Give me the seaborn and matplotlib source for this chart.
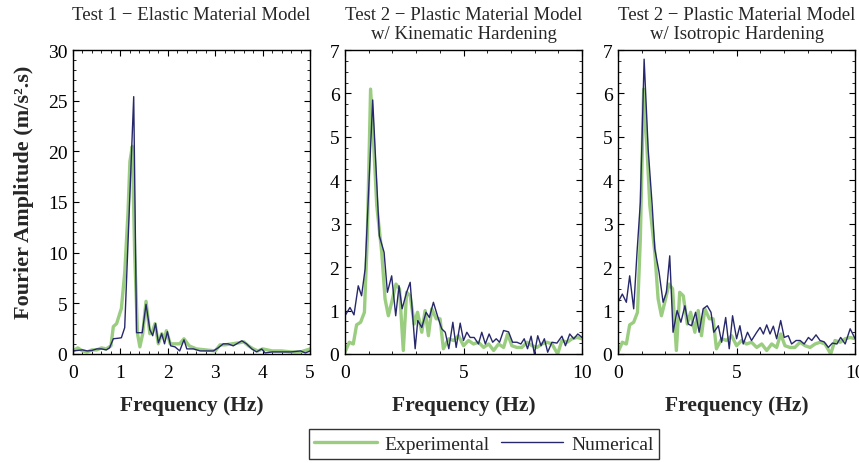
import numpy as np
import pandas as pd
import matplotlib
matplotlib.use("Agg")
import matplotlib.pyplot as plt
import seaborn as sns
from matplotlib.ticker import MultipleLocator

# ---------------- data ----------------
# Test 1 - elastic
f_exp1 = [0, 0.1, 0.2, 0.3, 0.4, 0.5, 0.6, 0.7, 0.8, 0.85, 0.92, 1.02, 1.09, 1.16, 1.2, 1.25, 1.3, 1.36,
          1.41, 1.47, 1.54, 1.62, 1.68, 1.73, 1.8, 1.87, 1.93, 1.97, 2.05, 2.15, 2.25, 2.34, 2.45, 2.6,
          2.8, 3.0, 3.1, 3.2, 3.35, 3.5, 3.6, 3.7, 3.8, 3.9, 4.0, 4.2, 4.4, 4.6, 4.8, 5.0]
a_exp1 = [0.3, 0.6, 0.3, 0.2, 0.4, 0.4, 0.6, 0.5, 0.8, 2.7, 3.0, 4.5, 8.0, 14.0, 19.0, 20.5, 10.0, 2.0,
          0.7, 2.0, 5.2, 2.0, 2.3, 3.0, 1.0, 2.0, 1.5, 2.3, 1.0, 1.0, 1.0, 1.5, 0.8, 0.5,
          0.4, 0.3, 0.9, 0.9, 1.0, 1.1, 1.2, 0.8, 0.5, 0.3, 0.5, 0.3, 0.3, 0.2, 0.2, 0.5]
f_num1 = [0, 0.1, 0.2, 0.3, 0.4, 0.5, 0.6, 0.7, 0.77, 0.85, 0.95, 1.02, 1.09, 1.28, 1.34, 1.46, 1.54,
          1.62, 1.68, 1.74, 1.8, 1.87, 1.93, 1.99, 2.06, 2.15, 2.25, 2.34, 2.4, 2.54, 2.68, 2.82, 2.96,
          3.06, 3.17, 3.27, 3.38, 3.56, 3.66, 3.77, 3.87, 3.98, 4.05, 4.2, 4.4, 4.6, 4.8, 4.9, 5.0]
a_num1 = [0.3, 0.35, 0.4, 0.3, 0.35, 0.5, 0.5, 0.4, 0.6, 1.5, 1.55, 1.6, 2.6, 25.4, 2.1, 2.1, 4.9,
          2.4, 1.8, 3.0, 1.1, 2.0, 1.0, 2.2, 0.8, 0.7, 0.3, 1.4, 0.5, 0.5, 0.3, 0.3, 0.3,
          0.6, 1.0, 1.0, 0.8, 1.3, 1.0, 0.5, 0.2, 0.5, 0.1, 0.2, 0.2, 0.2, 0.3, 0.1, 0.3]

# Test 2 - experimental (shared by both plastic panels)
f_exp2 = [0, 0.18, 0.35, 0.49, 0.66, 0.82, 0.94, 1.08, 1.2, 1.34, 1.55, 1.69, 1.83, 1.97, 2.15, 2.3,
          2.46, 2.6, 2.75, 2.92, 3.06, 3.24, 3.38, 3.52, 3.66, 3.85, 4.01, 4.15, 4.37, 4.58, 4.79, 5.0,
          5.21, 5.42, 5.63, 5.85, 6.06, 6.27, 6.48, 6.69, 6.86, 7.04, 7.25, 7.46, 7.68, 7.89, 8.1,
          8.31, 8.52, 8.73, 8.97, 9.15, 9.37, 9.58, 9.79, 10.0]
a_exp2 = [0.04, 0.27, 0.23, 0.67, 0.73, 0.96, 2.65, 6.1, 4.95, 3.42, 2.34, 1.27, 0.88, 1.19, 1.61, 1.5,
          0.08, 1.42, 1.34, 0.69, 0.96, 0.5, 1.0, 0.42, 1.04, 0.81, 0.81, 0.12, 0.35, 0.31, 0.42, 0.19,
          0.31, 0.23, 0.27, 0.15, 0.23, 0.08, 0.23, 0.15, 0.46, 0.19, 0.15, 0.15, 0.27, 0.19, 0.15,
          0.23, 0.27, 0.23, 0.0, 0.31, 0.27, 0.35, 0.38, 0.35]

# Test 2 - numerical, kinematic hardening
f_num2 = [0, 0.21, 0.38, 0.56, 0.7, 0.85, 1.17, 1.45, 1.65, 1.79, 1.97, 2.14, 2.28, 2.41, 2.6, 2.75,
          2.96, 3.07, 3.24, 3.42, 3.56, 3.73, 3.9, 4.08, 4.23, 4.38, 4.55, 4.69, 4.86, 5.0, 5.14, 5.28,
          5.45, 5.63, 5.77, 5.92, 6.08, 6.23, 6.38, 6.52, 6.69, 6.9, 7.07, 7.25, 7.42, 7.56, 7.7,
          7.85, 7.99, 8.13, 8.27, 8.41, 8.55, 8.73, 8.94, 9.15, 9.3, 9.48, 9.65, 9.82, 10.0]
a_num2 = [0.88, 1.07, 0.9, 1.57, 1.34, 1.96, 5.85, 2.72, 2.34, 1.42, 1.8, 0.88, 1.57, 1.04, 1.42, 1.65,
          0.12, 0.77, 0.61, 0.96, 0.84, 1.19, 0.88, 0.58, 0.5, 0.12, 0.73, 0.15, 0.71, 0.31, 0.5, 0.38,
          0.38, 0.23, 0.5, 0.23, 0.46, 0.27, 0.35, 0.27, 0.54, 0.51, 0.27, 0.27, 0.23, 0.35, 0.12,
          0.41, 0.0, 0.42, 0.19, 0.35, 0.04, 0.27, 0.25, 0.41, 0.19, 0.46, 0.35, 0.46, 0.38]

# Test 2 - numerical, isotropic hardening
f_num3 = [0, 0.18, 0.35, 0.49, 0.66, 0.8, 0.94, 1.1, 1.27, 1.44, 1.55, 1.73, 1.9, 2.04, 2.18, 2.32,
          2.49, 2.65, 2.82, 2.96, 3.1, 3.27, 3.42, 3.59, 3.76, 3.92, 4.04, 4.23, 4.37, 4.54, 4.69, 4.83,
          5.0, 5.14, 5.28, 5.46, 5.63, 5.85, 5.99, 6.13, 6.27, 6.41, 6.55, 6.69, 6.86, 7.01, 7.18,
          7.32, 7.51, 7.68, 7.85, 8.03, 8.17, 8.35, 8.52, 8.69, 8.87, 9.04, 9.23, 9.39, 9.58, 9.79, 10.0]
a_num3 = [1.19, 1.38, 1.19, 1.8, 1.04, 2.34, 3.49, 6.79, 4.72, 3.42, 2.42, 1.88, 1.19, 1.42, 2.26, 0.5,
          1.0, 0.73, 1.11, 0.69, 0.65, 0.96, 0.5, 1.04, 1.11, 0.96, 0.5, 0.65, 0.27, 0.84, 0.12, 0.88,
          0.35, 0.65, 0.23, 0.5, 0.31, 0.5, 0.61, 0.46, 0.67, 0.46, 0.64, 0.35, 0.77, 0.38, 0.42,
          0.23, 0.31, 0.31, 0.23, 0.38, 0.31, 0.44, 0.31, 0.28, 0.15, 0.25, 0.23, 0.38, 0.23, 0.58, 0.35]

titles = ["Test 1 \u2212 Elastic Material Model",
          "Test 2 \u2212 Plastic Material Model\nw/ Kinematic Hardening",
          "Test 2 \u2212 Plastic Material Model\nw/ Isotropic Hardening"]
x_limits = [5, 10, 10]
y_limits = [30, 7, 7]
x_major = [1, 5, 5]
x_minor = [0.2, 1, 1]
y_major = [5, 1, 1]
y_minor = [1, 0.25, 0.25]

series = [((f_exp1, a_exp1), (f_num1, a_num1)),
          ((f_exp2, a_exp2), (f_num2, a_num2)),
          ((f_exp2, a_exp2), (f_num3, a_num3))]

# ---------------- style ----------------
sns.set_style("ticks")
plt.rcParams['font.family'] = ['Liberation Serif', 'DejaVu Serif']

GREEN = "#9acd80"
NAVY = "#27286b"

fig = plt.figure(figsize=(8.59, 4.64), dpi=100)
lefts = [0.085, 0.4016, 0.7195]
W = 0.276
axes = [fig.add_axes([l, 0.235, W, 0.655]) for l in lefts]

for i, ax in enumerate(axes):
    (fe, ae), (fn, an) = series[i]
    df_e = pd.DataFrame({"f": fe, "a": ae})
    df_n = pd.DataFrame({"f": fn, "a": an})
    sns.lineplot(data=df_e, x="f", y="a", ax=ax, color=GREEN, lw=2.4,
                 label="Experimental" if i == 0 else None, estimator=None, sort=False)
    sns.lineplot(data=df_n, x="f", y="a", ax=ax, color=NAVY, lw=1.0,
                 label="Numerical" if i == 0 else None, estimator=None, sort=False)
    ax.set_xlim(0, x_limits[i])
    ax.set_ylim(0, y_limits[i])
    ax.xaxis.set_major_locator(MultipleLocator(x_major[i]))
    ax.xaxis.set_minor_locator(MultipleLocator(x_minor[i]))
    ax.yaxis.set_major_locator(MultipleLocator(y_major[i]))
    ax.yaxis.set_minor_locator(MultipleLocator(y_minor[i]))
    ax.tick_params(which="both", direction="in", top=True, right=True, labelsize=14,
                   colors="black")
    ax.tick_params(axis="x", which="major", pad=7)
    ax.tick_params(axis="y", which="major", pad=4)
    ax.tick_params(which="major", length=4, width=0.8)
    ax.tick_params(which="minor", length=2, width=0.6)
    for s in ax.spines.values():
        s.set_visible(True)
        s.set_linewidth(1.0)
        s.set_color("black")
    fig.text(lefts[i] + W / 2, 0.984, titles[i], ha="center", va="top",
             fontsize=13.5, linespacing=1.12)
    ax.set_xlabel("Frequency (Hz)", fontsize=15.5, fontweight="bold", labelpad=10)
    ax.set_ylabel("")
    if ax.get_legend() is not None:
        ax.get_legend().remove()

axes[0].set_ylabel("Fourier Amplitude (m/s\u00b2.s)", fontsize=16, fontweight="bold")
axes[0].yaxis.set_label_coords(-0.165, 0.535)

handles, labels = axes[0].get_legend_handles_labels()
leg = fig.legend(handles, labels, loc="center", bbox_to_anchor=(0.5635, 0.041), ncol=2,
                 fontsize=14, frameon=True, fancybox=False, edgecolor="black",
                 handlelength=3.2, columnspacing=0.6, handletextpad=0.4, borderpad=0.3)
leg.get_frame().set_linewidth(1.0)

fig.savefig("out.png", dpi=100)
